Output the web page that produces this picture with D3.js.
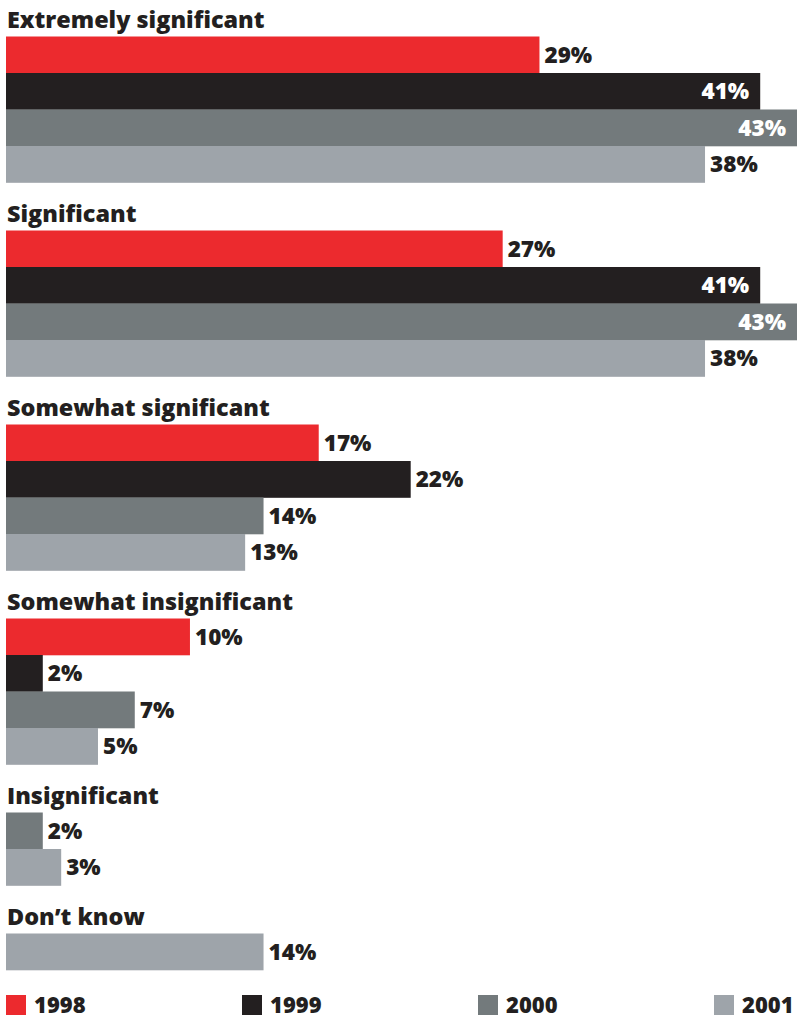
<!DOCTYPE html>
<html>
<head>
<meta charset="utf-8">
<script src="https://cdn.jsdelivr.net/npm/d3@7"></script>
<style>
  html, body { margin: 0; padding: 0; background: #ffffff; }
  svg { display: block; }
  text { font-family: "Open Sans", "DejaVu Sans", sans-serif; font-weight: 800; fill: #231f20; }
</style>
</head>
<body>
<svg id="chart" width="797" height="1019"></svg>
<script>
// Survey answers, share of respondents per year (null = not reported)
const categories = ["Extremely significant", "Significant", "Somewhat significant",
                    "Somewhat insignificant", "Insignificant", "Don’t know"];
const years = ["1998", "1999", "2000", "2001"];
const values1998 = [29, 27, 17, 10, null, null];
const values1999 = [41, 41, 22, 2, null, null];
const values2000 = [43, 43, 14, 7, 2, null];
const values2001 = [38, 38, 13, 5, 3, 14];
const seriesValues = [values1998, values1999, values2000, values2001];
const colors = ["#ec2a2e", "#231f20", "#737a7c", "#9ea4aa"];

const W = 797, H = 1019;
const svg = d3.select("#chart");

const x = d3.scaleLinear().domain([0, 43]).range([6, 797]);
const color = d3.scaleOrdinal().domain(years).range(colors);

const barStep = 36.5;
const groupGap = 48;
let groupTop = 36.5;

categories.forEach((cat, i) => {
  const rows = years
    .map((yr, s) => ({ year: yr, value: seriesValues[s][i] }))
    .filter(d => d.value != null);

  const y = d3.scaleBand()
    .domain(rows.map(d => d.year))
    .range([groupTop, groupTop + rows.length * barStep])
    .paddingInner(0).paddingOuter(0);

  const g = svg.append("g");

  g.append("text")
    .attr("x", 7)
    .attr("y", groupTop - 9)
    .attr("font-size", 23.4)
    .text(cat);

  g.selectAll("rect")
    .data(rows)
    .join("rect")
    .attr("x", x(0))
    .attr("y", d => y(d.year))
    .attr("width", d => x(d.value) - x(0))
    .attr("height", y.bandwidth() + 0.3)
    .attr("fill", d => color(d.year));

  g.selectAll("text.val")
    .data(rows)
    .join("text")
    .attr("class", "val")
    .attr("font-size", 22.5)
    .attr("y", d => y(d.year) + y.bandwidth() / 2 + 8)
    .text(d => d.value + "%")
    .each(function (d) {
      const t = d3.select(this);
      const w = this.getComputedTextLength();
      const end = x(d.value);
      if (end + 5 + w > W) {
        t.attr("x", end - 11).attr("text-anchor", "end").style("fill", "#ffffff");
      } else {
        t.attr("x", end + 5).attr("text-anchor", "start");
      }
    });

  groupTop += rows.length * barStep + groupGap;
});

// Legend
const lx = d3.scalePoint().domain(years).range([6, 714]);
const legend = svg.append("g").selectAll("g")
  .data(years)
  .join("g")
  .attr("transform", d => `translate(${lx(d)},995)`);
legend.append("rect")
  .attr("width", 20).attr("height", 20)
  .attr("fill", d => color(d));
legend.append("text")
  .attr("x", 28).attr("y", 18)
  .attr("font-size", 22)
  .text(d => d);
</script>
</body>
</html>
